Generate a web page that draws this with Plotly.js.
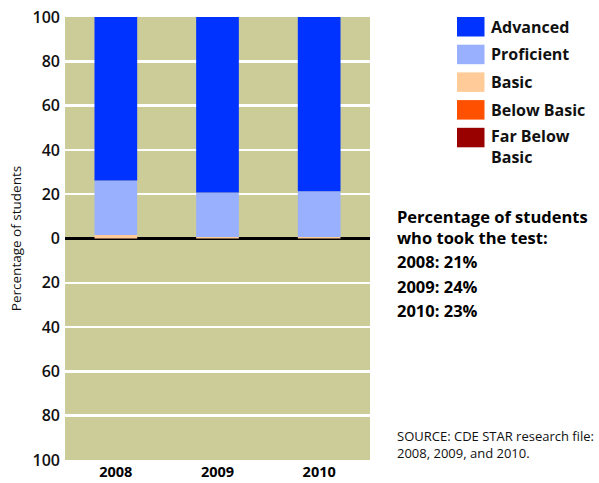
<!DOCTYPE html>
<html>
<head>
<meta charset="utf-8">
<script src="https://cdn.plot.ly/plotly-3.0.1.min.js"></script>
<style>html,body{margin:0;padding:0;background:#fff;}#chart{width:599px;height:483px;}</style>
</head>
<body>
<div id="chart"></div>
<script>
const years = ['2008', '2009', '2010'];
const advanced = [73.8, 79.2, 78.7];
const proficient = [24.6, 20.1, 20.6];
const basic = [1.6, 0.7, 0.7];
const belowBasic = [0, 0, 0];
const farBelowBasic = [0, 0, 0];
const tookTest = ['21%', '24%', '23%'];
const yTickVals = [-100, -80, -60, -40, -20, 0, 20, 40, 60, 80, 100];
const yTickText = ['100', '80', '60', '40', '20', '0', '20', '40', '60', '80', '100'];

const colors = {
  advanced: '#0033ff',
  proficient: '#99b0ff',
  basic: '#ffcc99',
  belowBasic: '#ff5000',
  farBelowBasic: '#990000'
};
const FONT = 'Open Sans, DejaVu Sans, sans-serif';
const W = 0.42;
const traces = [
  {name: 'Basic', y: basic, color: colors.basic},
  {name: 'Proficient', y: proficient, color: colors.proficient},
  {name: 'Advanced', y: advanced, color: colors.advanced},
  {name: 'Below Basic', y: belowBasic.map(v => -v), color: colors.belowBasic},
  {name: 'Far Below Basic', y: farBelowBasic.map(v => -v), color: colors.farBelowBasic}
].map(t => ({
  type: 'bar', x: years, y: t.y, name: t.name, width: W,
  marker: {color: t.color, line: {width: 0}}, hoverinfo: 'skip', showlegend: false
}));

const legendItems = [
  ['Advanced', colors.advanced],
  ['Proficient', colors.proficient],
  ['Basic', colors.basic],
  ['Below Basic', colors.belowBasic],
  ['Far Below<br>Basic', colors.farBelowBasic]
];
// plot area: x 65..370, y 17..460 in pixels
const L = 65, R = 370, T = 17, B = 460;
const px = x => (x - L) / (R - L), py = y => (B - y) / (B - T);
const shapes = [];
const annotations = [];
const txt = (x, yc, text, size, weight, color) => ({
  xref: 'paper', yref: 'paper', x: px(x), y: py(yc),
  xanchor: 'left', yanchor: 'middle', align: 'left', showarrow: false,
  text: text, font: {family: FONT, size: size, color: color || '#000', weight: weight}
});
legendItems.forEach((it, i) => {
  const top = 17 + i * 27.7;
  shapes.push({type: 'rect', xref: 'paper', yref: 'paper', layer: 'above',
    x0: px(457), x1: px(484.5), y0: py(top), y1: py(top + 19.5),
    fillcolor: it[1], line: {width: 0}});
  const twoLine = it[0].indexOf('<br>') >= 0;
  annotations.push(txt(489, top + (twoLine ? 18.5 : 9.5), it[0], 16, 700, '#111'));
});
annotations.push(txt(395, 227, 'Percentage of students<br>who took the test:', 16.5, 700));
years.forEach((yr, i) => {
  annotations.push(txt(395, 261.5 + i * 24.5, yr + ': ' + tookTest[i], 16.5, 700));
});
annotations.push(txt(395, 444, 'SOURCE: CDE STAR research file:<br>2008, 2009, and 2010.', 13, 400, '#111'));

const layout = {
  width: 599, height: 483,
  margin: {l: L, r: 599 - R, t: T, b: 483 - B, pad: 0},
  paper_bgcolor: '#fff', plot_bgcolor: '#cccc99',
  barmode: 'relative', bargap: 0.58,
  showlegend: false,
  font: {family: FONT, color: '#111'},
  xaxis: {type: 'category', tickfont: {family: FONT, size: 14.5, color: '#000', weight: 700},
    showgrid: false, zeroline: false, showline: false, ticks: '', ticklabelstandoff: 1},
  yaxis: {range: [-100, 100], tickvals: yTickVals, ticktext: yTickText,
    tickfont: {family: FONT, size: 16, color: '#111', weight: 600},
    showgrid: true, gridcolor: '#ffffff', gridwidth: 2.5,
    zeroline: true, zerolinecolor: '#000', zerolinewidth: 2.5,
    showline: false, ticks: '', ticklabelstandoff: 4,
    title: {text: 'Percentage of students', font: {family: FONT, size: 13.5, color: '#111'}, standoff: 7}},
  shapes: shapes,
  annotations: annotations
};
Plotly.newPlot('chart', traces, layout, {staticPlot: true, displayModeBar: false});
</script>
</body>
</html>
